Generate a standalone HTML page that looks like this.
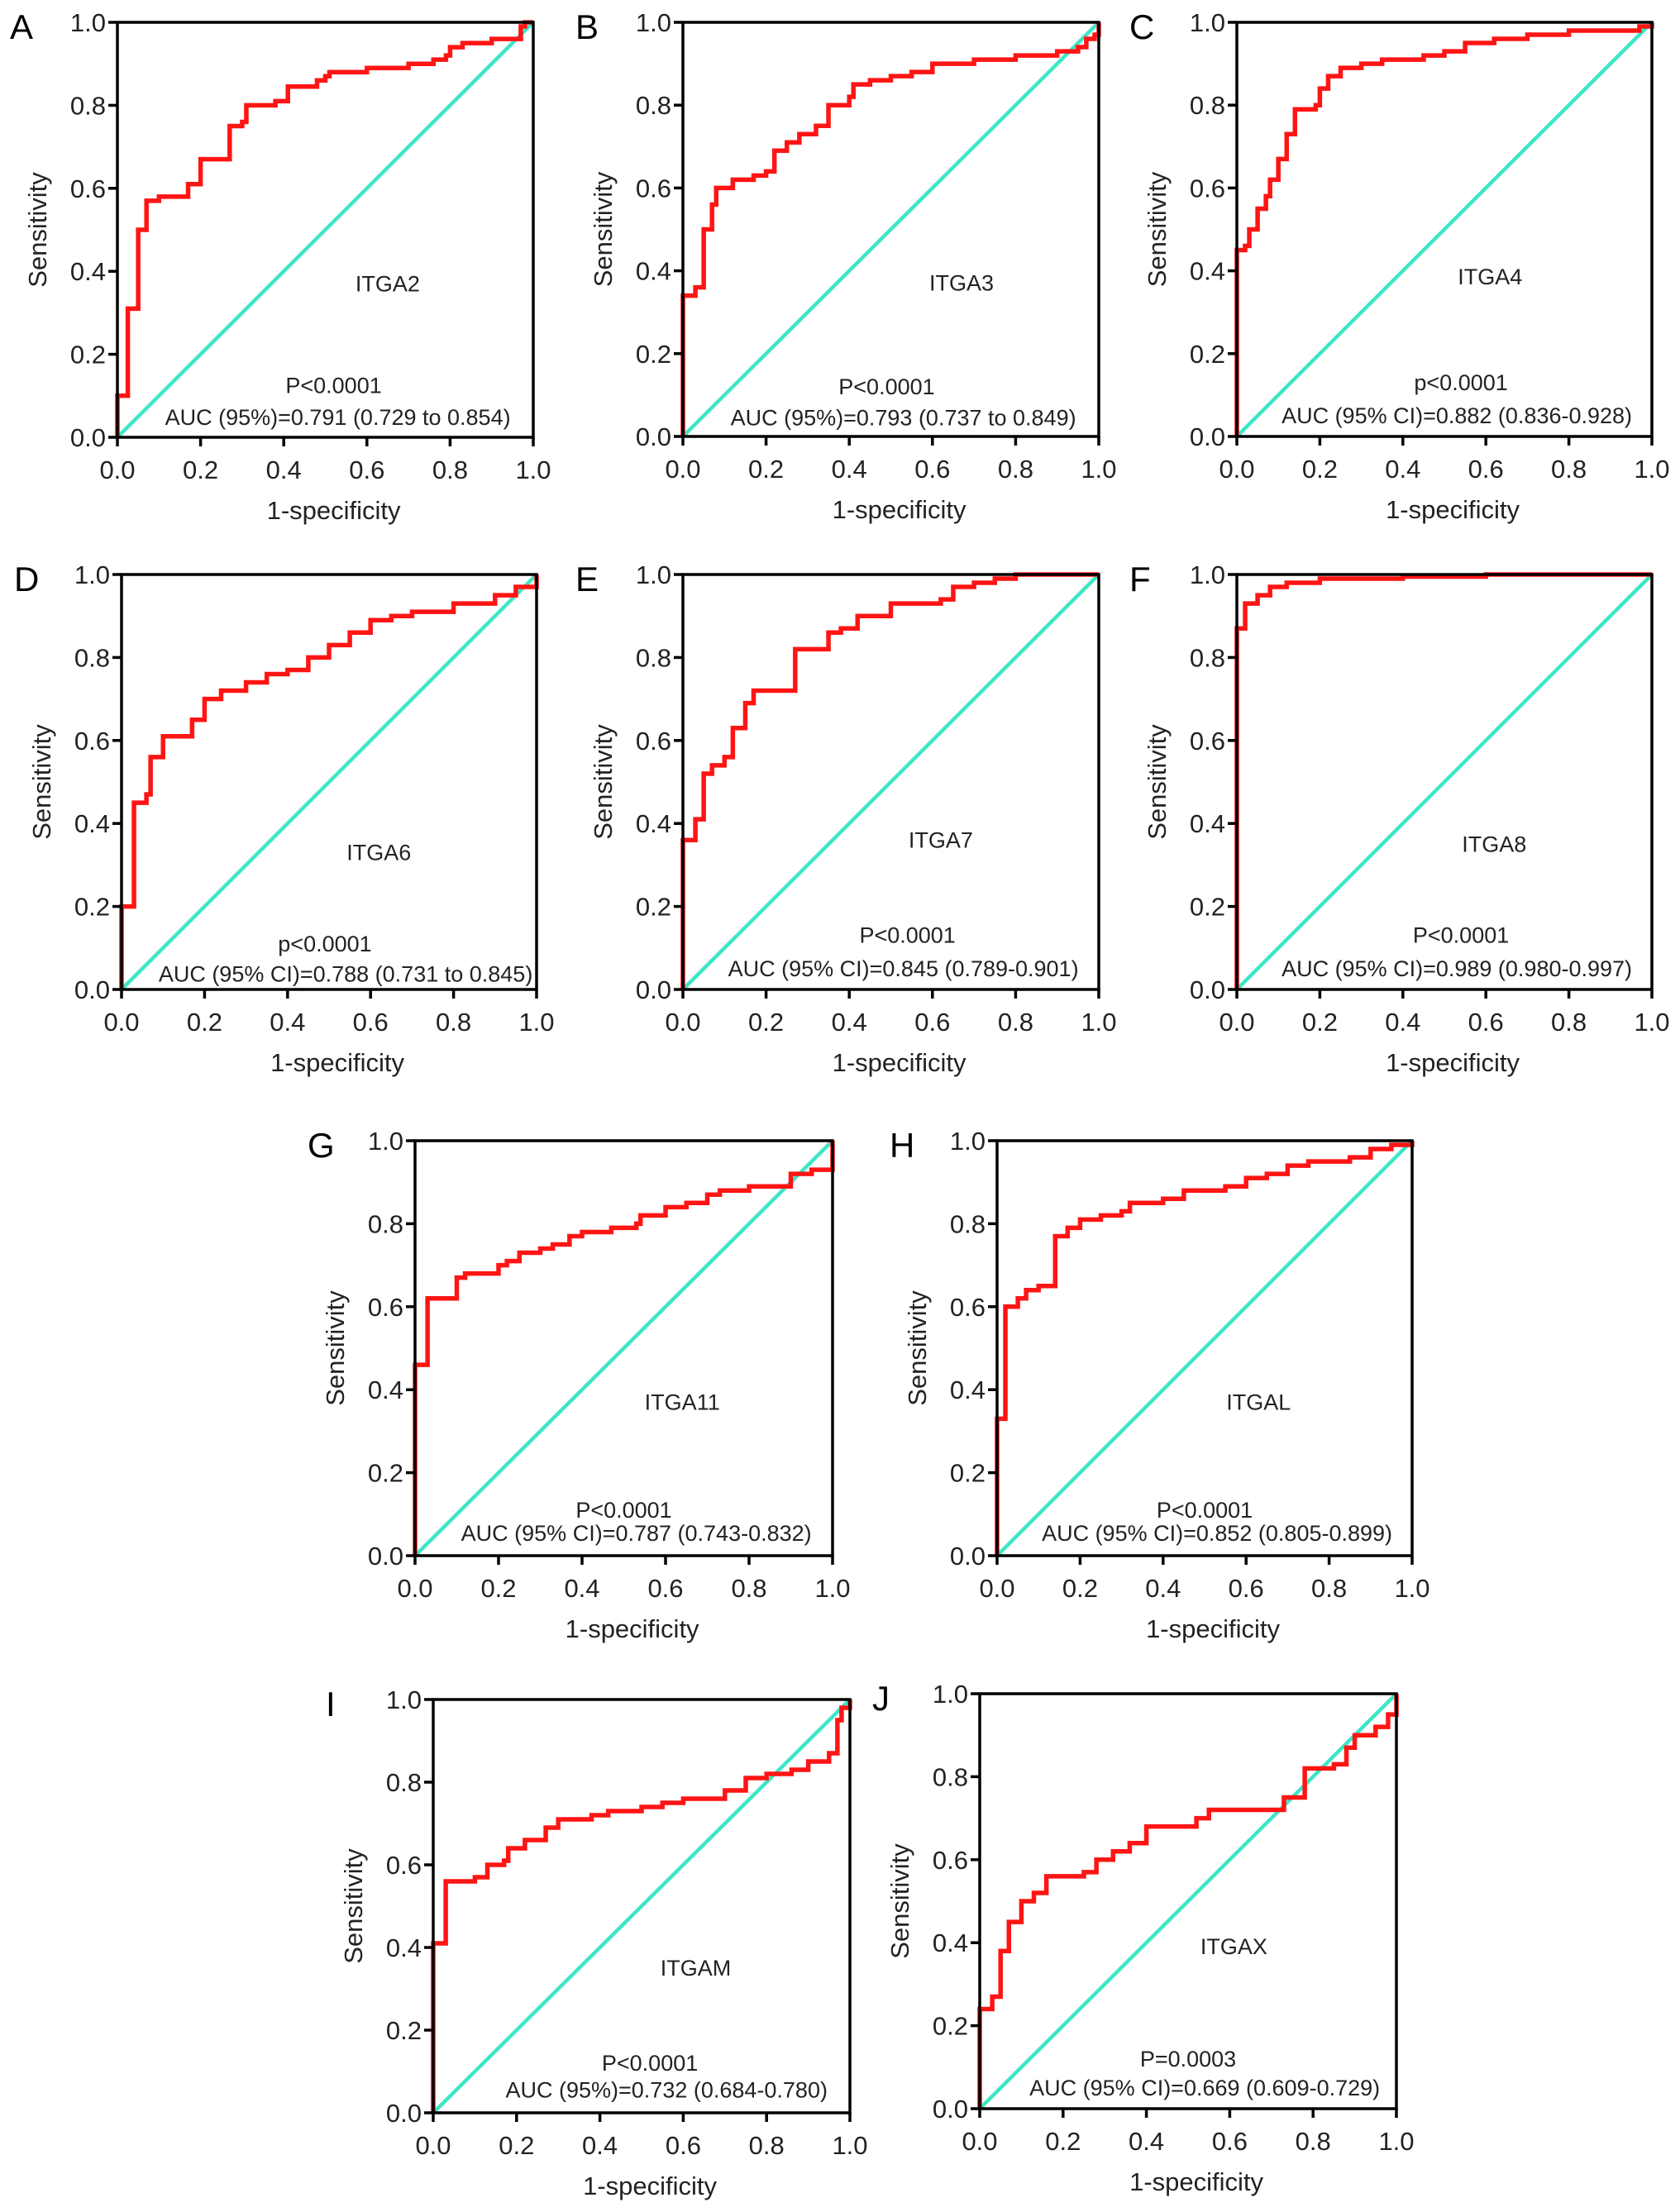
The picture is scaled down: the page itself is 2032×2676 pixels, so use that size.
<!DOCTYPE html>
<html><head><meta charset="utf-8"><style>
html,body{margin:0;padding:0;background:#fff;}
svg{display:block;font-family:"Liberation Sans",Arial,sans-serif;}
</style></head><body>
<svg id="fig" width="2032" height="2676" viewBox="0 0 2032 2676" xmlns="http://www.w3.org/2000/svg"></svg>
<script>
const tickValues = [0, 0.2, 0.4, 0.6, 0.8, 1.0];
const tickLabels = ["0.0","0.2","0.4","0.6","0.8","1.0"];
const panelLetters = ["A","B","C","D","E","F","G","H","I","J"];
const geneNames = ["ITGA2","ITGA3","ITGA4","ITGA6","ITGA7","ITGA8","ITGA11","ITGAL","ITGAM","ITGAX"];
const pTexts = ["P<0.0001","P<0.0001","p<0.0001","p<0.0001","P<0.0001","P<0.0001","P<0.0001","P<0.0001","P<0.0001","P=0.0003"];
const aucTexts = ["AUC (95%)=0.791 (0.729 to 0.854)","AUC (95%)=0.793 (0.737 to 0.849)","AUC (95% CI)=0.882 (0.836-0.928)","AUC (95% CI)=0.788 (0.731 to 0.845)","AUC (95% CI)=0.845 (0.789-0.901)","AUC (95% CI)=0.989 (0.980-0.997)","AUC (95% CI)=0.787 (0.743-0.832)","AUC (95% CI)=0.852 (0.805-0.899)","AUC (95%)=0.732 (0.684-0.780)","AUC (95% CI)=0.669 (0.609-0.729)"];
const fprA=[0,0,.025,.05,.07,.1,.17,.17,.2,.2,.27,.27,.3,.31,.36,.38,.41,.41,.46,.48,.5,.51,.6,.68,.7,.73,.76,.79,.8,.83,.88,.9,.97,.97,.98,1];
const tprA=[0,.1,.31,.5,.57,.58,.58,.61,.61,.67,.67,.75,.76,.8,.8,.81,.82,.845,.845,.86,.87,.88,.89,.89,.9,.9,.91,.92,.94,.95,.95,.96,.97,.99,1,1];
const fprB=[0,0,.03,.05,.07,.08,.12,.17,.2,.22,.25,.28,.32,.35,.4,.41,.45,.5,.55,.6,.7,.8,.9,.95,.97,.99,1];
const tprB=[0,.34,.36,.5,.56,.6,.62,.63,.64,.69,.71,.73,.75,.8,.82,.85,.86,.87,.88,.9,.91,.92,.93,.94,.96,.97,1];
const fprC=[0,0,.02,.03,.05,.07,.08,.1,.12,.14,.19,.2,.22,.25,.3,.35,.45,.5,.55,.62,.7,.8,.9,.97,1];
const tprC=[0,.45,.46,.5,.55,.58,.62,.67,.73,.79,.8,.84,.87,.89,.9,.91,.92,.93,.95,.96,.97,.98,.98,.99,1];
const fprD=[0,0,.03,.06,.07,.1,.16,.17,.2,.24,.3,.35,.4,.45,.5,.55,.6,.65,.7,.8,.9,.95,1];
const tprD=[0,.2,.45,.47,.56,.61,.61,.65,.7,.72,.74,.76,.77,.8,.83,.86,.89,.9,.91,.93,.95,.97,1];
const fprE=[0,0,.03,.05,.07,.1,.12,.15,.17,.27,.27,.33,.35,.38,.42,.5,.56,.62,.65,.7,.75,.8,1];
const tprE=[0,.36,.41,.52,.54,.56,.63,.69,.72,.72,.82,.82,.86,.87,.9,.93,.93,.94,.97,.98,.99,1,1];
const fprF=[0,0,.02,.05,.08,.12,.2,.4,.6,1];
const tprF=[0,.87,.93,.95,.97,.98,.99,.995,1,1];
const fprG=[0,0,.03,.07,.1,.12,.18,.2,.22,.25,.3,.33,.37,.4,.47,.53,.54,.6,.65,.7,.73,.8,.85,.9,.95,1,1];
const tprG=[0,.46,.62,.62,.67,.68,.68,.7,.71,.73,.74,.75,.77,.78,.79,.8,.82,.84,.85,.87,.88,.89,.89,.92,.93,.94,1];
const fprH=[0,0,.02,.05,.07,.1,.14,.14,.17,.2,.25,.3,.32,.4,.45,.55,.6,.65,.7,.75,.85,.9,.95,1];
const tprH=[0,.33,.6,.62,.64,.65,.66,.77,.79,.81,.82,.83,.85,.86,.88,.89,.91,.92,.94,.95,.96,.98,.99,1];
const fprI=[0,0,.03,.1,.13,.17,.18,.22,.27,.3,.38,.42,.5,.55,.6,.7,.75,.8,.86,.9,.95,.97,.98,1];
const tprI=[0,.41,.56,.57,.6,.61,.64,.66,.69,.71,.72,.73,.74,.75,.76,.78,.81,.82,.83,.85,.87,.95,.98,1];
const fprJ=[0,0,.03,.05,.07,.1,.13,.16,.25,.28,.32,.36,.4,.45,.52,.55,.7,.73,.78,.78,.85,.88,.9,.95,.98,1,1];
const tprJ=[0,.24,.27,.38,.45,.5,.52,.56,.57,.6,.62,.64,.68,.68,.7,.72,.72,.75,.76,.82,.83,.87,.9,.92,.95,.97,1];
const fprSeries=[fprA,fprB,fprC,fprD,fprE,fprF,fprG,fprH,fprI,fprJ];
const tprSeries=[tprA,tprB,tprC,tprD,tprE,tprF,tprG,tprH,tprI,tprJ];
const geneLabelPos=[[.65,.37],[.67,.37],[.61,.385],[.62,.33],[.62,.36],[.62,.35],[.64,.37],[.63,.37],[.63,.35],[.61,.39]];
const pLabelPos=[[.52,.125],[.49,.12],[.54,.13],[.49,.11],[.54,.13],[.54,.13],[.50,.11],[.50,.11],[.52,.12],[.50,.12]];
const aucLabelPos=[[.53,.048],[.53,.045],[.53,.05],[.54,.037],[.53,.05],[.53,.05],[.53,.054],[.53,.054],[.56,.055],[.54,.05]];

const boxes=[[142,27,645,529],[826,27,1329,528],[1496,27,1998,528],[147,695,649,1197],[826,695,1329,1197],[1496,695,1998,1197],[502,1380,1007,1882],[1206,1380,1708,1882],[524,2056,1028,2556],[1185,2049,1689,2551]];
const NS="http://www.w3.org/2000/svg";
const svg=document.getElementById('fig');
function mk(tag,attrs,parent){const e=document.createElementNS(NS,tag);for(const k in attrs)e.setAttribute(k,attrs[k]);parent.appendChild(e);return e;}
function txt(s,attrs,parent){const e=mk('text',attrs,parent);e.textContent=s;return e;}

boxes.forEach((b,i)=>{
  const [L,T,R,B]=b, W=R-L, H=B-T;
  const sx=v=>L+v*W, sy=v=>B-v*H;
  const g=mk('g',{},svg);
  
  
  const pl=txt(panelLetters[i],{x:L-130,y:T+20,'font-size':42},g);
  
  
  const dg=mk('line',{x1:sx(0),y1:sy(0),x2:sx(1),y2:sy(1),stroke:'#3ee6c6','stroke-width':4.5},g);
  
  
  const fx=fprSeries[i], ty=tprSeries[i];
  let d='M'+sx(fx[0])+' '+sy(ty[0]);
  for(let k=1;k<fx.length;k++){d+=' L'+sx(fx[k])+' '+sy(ty[k-1])+' L'+sx(fx[k])+' '+sy(ty[k]);}
  const rc=mk('path',{d:d,fill:'none',stroke:'#ff1414','stroke-width':5.5,'stroke-linejoin':'miter'},g);
  
  
  const fr=mk('rect',{x:L,y:T,width:W,height:H,fill:'none',stroke:'#000','stroke-width':3.5},g);
  
  
  tickValues.forEach((v,k)=>{
    mk('line',{x1:sx(v),y1:B,x2:sx(v),y2:B+11,stroke:'#000','stroke-width':3.5},g);
    const xt=txt(tickLabels[k],{x:sx(v),y:B+50,'font-size':31,'text-anchor':'middle',fill:'#222'},g);
    
    
    mk('line',{x1:L-11,y1:sy(v),x2:L,y2:sy(v),stroke:'#000','stroke-width':3.5},g);
    const yt=txt(tickLabels[k],{x:L-14,y:sy(v)+11,'font-size':31,'text-anchor':'end',fill:'#222'},g);
    
    
  });
  const xa=txt('1-specificity',{x:L+W*0.52,y:B+99,'font-size':31,'text-anchor':'middle',fill:'#222'},g);
  
  
  const ya=txt('Sensitivity',{x:0,y:0,'font-size':31,'text-anchor':'middle',fill:'#222',transform:'translate('+(L-86)+','+(T+H*0.5)+') rotate(-90)'},g);
  
  
  const gp=geneLabelPos[i], pp=pLabelPos[i], ap=aucLabelPos[i];
  const gl=txt(geneNames[i],{x:sx(gp[0]),y:sy(gp[1])+9,'font-size':27,'text-anchor':'middle',fill:'#222'},g);
  
  
  const pt=txt(pTexts[i],{x:sx(pp[0]),y:sy(pp[1])+9,'font-size':27,'text-anchor':'middle',fill:'#222'},g);
  
  
  const at=txt(aucTexts[i],{x:sx(ap[0]),y:sy(ap[1])+9,'font-size':27,'text-anchor':'middle',fill:'#222'},g);
  
  
});
</script>
</body></html>
